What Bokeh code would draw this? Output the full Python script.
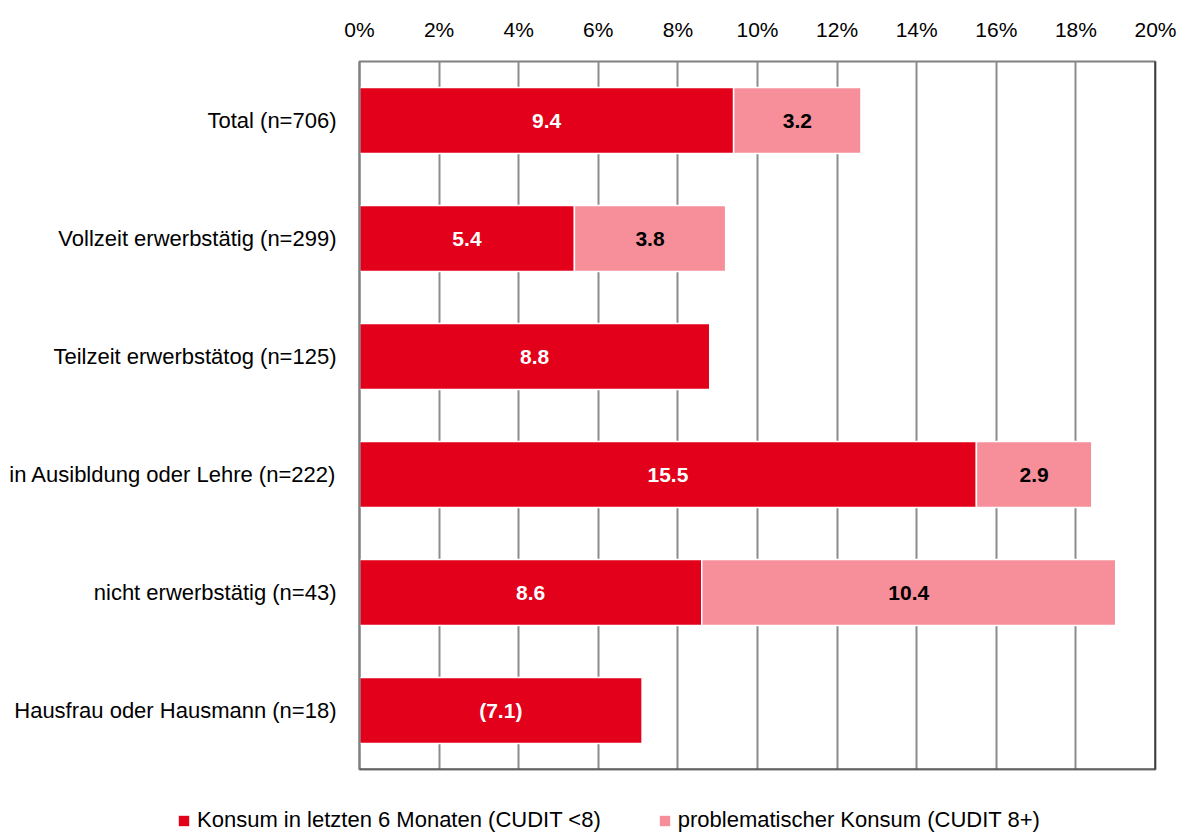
from bokeh.plotting import figure
from bokeh.layouts import column
from bokeh.models import FactorRange, Range1d, Legend, LegendItem, ColumnDataSource, Span, FixedTicker, CustomJSTickFormatter
from bokeh.core.properties import value
from bokeh.embed import file_html
from bokeh.resources import INLINE

categories = ["Total (n=706)", "Vollzeit erwerbstätig (n=299)", "Teilzeit erwerbstätog (n=125)",
              "in Ausibldung oder Lehre (n=222)", "nicht erwerbstätig (n=43)", "Hausfrau oder Hausmann (n=18)"]
konsum = [9.4, 5.4, 8.8, 15.5, 8.6, 7.1]
problematisch = [3.2, 3.8, 0.0, 2.9, 10.4, 0.0]
konsum_labels = ["9.4", "5.4", "8.8", "15.5", "8.6", "(7.1)"]
problematisch_labels = ["3.2", "3.8", "", "2.9", "10.4", ""]
series_names = ["Konsum in letzten 6 Monaten (CUDIT <8)", "problematischer Konsum (CUDIT 8+)"]
x_ticks = [0, 2, 4, 6, 8, 10, 12, 14, 16, 18, 20]

RED = "#E2001A"
PINK = "#F78F9B"
FONT = "Liberation Sans"

p = figure(width=1180, height=771, y_range=FactorRange(*reversed(categories)),
           x_range=Range1d(0, 20), x_axis_location="above",
           output_backend="svg", toolbar_location=None,
           min_border_left=359, min_border_right=25, min_border_top=61, min_border_bottom=2)

red_src = ColumnDataSource(dict(y=categories, left=[0] * len(konsum), right=konsum,
                                mid=[v / 2 for v in konsum], lab=konsum_labels))
pk = [(c, k, q, l) for c, k, q, l in zip(categories, konsum, problematisch, problematisch_labels) if q > 0]
pink_src = ColumnDataSource(dict(y=[t[0] for t in pk], left=[t[1] for t in pk],
                                 right=[t[1] + t[2] for t in pk],
                                 mid=[t[1] + t[2] / 2 for t in pk], lab=[t[3] for t in pk]))

p.hbar(y="y", left="left", right="right", height=0.56, source=red_src,
       fill_color=RED, line_color="white", line_width=1.5)
p.hbar(y="y", left="left", right="right", height=0.56, source=pink_src,
       fill_color=PINK, line_color="white", line_width=1.5)

p.text(x="mid", y="y", text="lab", source=red_src, text_color="white",
       text_font=value(FONT), text_font_size="21px", text_font_style="bold",
       text_align="center", text_baseline="middle")
p.text(x="mid", y="y", text="lab", source=pink_src, text_color="black",
       text_font=value(FONT), text_font_size="21px", text_font_style="bold",
       text_align="center", text_baseline="middle")

p.xaxis.ticker = FixedTicker(ticks=x_ticks)
p.xaxis.formatter = CustomJSTickFormatter(code="return tick + '%';")
p.xaxis.axis_line_color = None
p.xaxis.major_tick_line_color = None
p.xaxis.minor_tick_line_color = None
p.xaxis.major_label_text_font = FONT
p.xaxis.major_label_text_font_size = "21px"
p.xaxis.major_label_text_color = "black"
p.xaxis.major_label_standoff = 15

p.yaxis.axis_line_color = "#808080"
p.yaxis.axis_line_width = 2
p.yaxis.major_tick_line_color = None
p.yaxis.minor_tick_line_color = None
p.yaxis.major_label_text_font = FONT
p.yaxis.major_label_text_font_size = "22px"
p.yaxis.major_label_text_color = "black"
p.yaxis.major_label_standoff = 17

p.xgrid.grid_line_color = "#8c8c8c"
p.xgrid.grid_line_width = 2
p.ygrid.grid_line_color = None
p.outline_line_color = "#808080"
p.outline_line_width = 2

p.add_layout(Span(location=20, dimension="height", line_color="black", line_width=2))
p.add_layout(Span(location=0, dimension="width", line_color="#404040", line_width=2))

# legend strip below the chart (its bars lie outside its visible x range)
lf = figure(width=1180, height=64, x_range=Range1d(-2, -1), y_range=FactorRange(*categories),
            output_backend="svg", toolbar_location=None,
            min_border=0, outline_line_color=None)
lf.axis.visible = False
lf.grid.visible = False
l1 = lf.hbar(y="y", left="left", right="right", height=0.56, source=red_src,
             fill_color=RED, line_color=None)
l2 = lf.hbar(y="y", left="left", right="right", height=0.56, source=pink_src,
             fill_color=PINK, line_color=None)
legend = Legend(items=[LegendItem(label=series_names[0], renderers=[l1]),
                       LegendItem(label=series_names[1], renderers=[l2])],
                orientation="horizontal", location=(177, 2),
                glyph_width=13, glyph_height=13, label_standoff=7, spacing=57,
                label_height=22, label_text_color="black",
                label_text_font=FONT, label_text_font_size="22px",
                padding=0, margin=0, border_line_color=None, background_fill_alpha=0)
lf.add_layout(legend, "center")

for fig in (p, lf):
    if "frame_align" in fig.properties():
        fig.frame_align = False

open("out.html", "w").write(file_html(column(p, lf, spacing=0), INLINE))
